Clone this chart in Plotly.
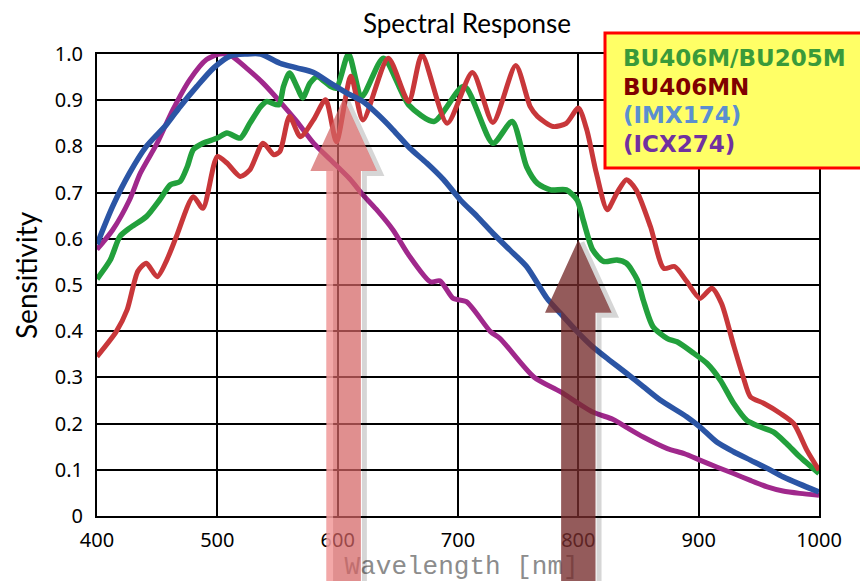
import plotly.graph_objects as go

# ---------------- data ----------------
wl_imx174 = [400, 413, 427, 441, 458, 469, 483, 497, 511, 524, 536, 552, 566, 580, 594, 608, 621, 633,
             646, 660, 674, 688, 702, 716, 729, 743, 757, 774, 785, 799, 812, 826, 840, 854, 868, 890,
             901, 915, 929, 943, 957, 970, 984, 1000]
imx174 = [0.588, 0.67, 0.742, 0.80, 0.848, 0.886, 0.93, 0.97, 0.996, 1.0, 1.0, 0.98, 0.97, 0.96, 0.937,
          0.915, 0.897, 0.87, 0.836, 0.796, 0.764, 0.728, 0.684, 0.648, 0.612, 0.576, 0.54, 0.471, 0.439,
          0.399, 0.366, 0.337, 0.309, 0.28, 0.251, 0.215, 0.193, 0.16, 0.139, 0.121, 0.103, 0.085, 0.069,
          0.052]

wl_icx274 = [400, 413, 427, 436, 450, 463, 477, 491, 502, 511, 524, 538, 552, 566, 580, 594, 610, 621,
             632, 646, 659, 677, 685, 696, 707, 727, 735, 763, 785, 812, 829, 840, 854, 874, 888, 901,
             915, 929, 943, 957, 970, 984, 1000]
icx274 = [0.577, 0.619, 0.684, 0.742, 0.807, 0.879, 0.944, 0.988, 1.0, 0.997, 0.97, 0.937, 0.897, 0.854,
          0.807, 0.771, 0.73, 0.695, 0.664, 0.619, 0.565, 0.507, 0.509, 0.471, 0.464, 0.399, 0.384,
          0.301, 0.269, 0.225, 0.209, 0.192, 0.171, 0.146, 0.135, 0.121, 0.106, 0.092, 0.077, 0.063,
          0.054, 0.049, 0.045]

wl_bu406m = [400, 411, 419, 427, 441, 452, 461, 469, 475, 480, 488, 500, 508, 519, 527, 536, 541, 551,
             555, 560, 566, 571, 577, 583, 594, 599, 609, 620, 638, 659, 680, 705, 729, 745, 757, 766,
             777, 790, 799, 804, 812, 821, 832, 840, 849, 854, 862, 874, 882, 896, 907, 918, 929, 940,
             951, 962, 973, 984, 1000]
bu406m = [0.513, 0.554, 0.605, 0.623, 0.648, 0.684, 0.717, 0.724, 0.756, 0.793, 0.807, 0.818, 0.829,
          0.818, 0.85, 0.886, 0.897, 0.89, 0.93, 0.959, 0.93, 0.905, 0.937, 0.951, 0.93, 0.926, 1.0,
          0.908, 0.991, 0.89, 0.854, 0.93, 0.807, 0.854, 0.756, 0.72, 0.706, 0.706, 0.684, 0.641,
          0.576, 0.551, 0.554, 0.547, 0.511, 0.467, 0.41, 0.384, 0.377, 0.352, 0.33, 0.294, 0.244,
          0.207, 0.193, 0.182, 0.157, 0.128, 0.092]

wl_bu406mn = [400, 416, 425, 434, 441, 450, 458, 466, 480, 488, 500, 508, 519, 527, 538, 547, 552, 560,
              569, 580, 590, 599, 611, 621, 642, 659, 670, 691, 712, 729, 748, 760, 766, 779, 790, 800,
              807, 815, 824, 832, 840, 848, 860, 871, 880, 890, 901, 911, 919, 929, 937, 943, 954, 968,
              979, 990, 1000]
bu406mn = [0.345, 0.399, 0.446, 0.53, 0.547, 0.518, 0.554, 0.605, 0.691, 0.666, 0.778, 0.764, 0.735,
           0.749, 0.807, 0.782, 0.789, 0.865, 0.821, 0.858, 0.901, 0.81, 0.952, 0.857, 0.991, 0.897,
           0.998, 0.85, 0.96, 0.852, 0.975, 0.886, 0.865, 0.843, 0.85, 0.883, 0.836, 0.742, 0.663,
           0.699, 0.728, 0.706, 0.626, 0.536, 0.54, 0.508, 0.471, 0.493, 0.46, 0.37, 0.301, 0.258,
           0.244, 0.222, 0.2, 0.142, 0.099]

legend_labels = ["BU406M/BU205M", "BU406MN", "(IMX174)", "(ICX274)"]
legend_colors = ["#3a9a3a", "#800000", "#5b8fd0", "#7030a0"]

x_ticks = [400, 500, 600, 700, 800, 900, 1000]
y_ticks = [0, 0.1, 0.2, 0.3, 0.4, 0.5, 0.6, 0.7, 0.8, 0.9, 1.0]
y_tick_labels = ["0", "0.1", "0.2", "0.3", "0.4", "0.5", "0.6", "0.7", "0.8", "0.9", "1.0"]

arrow_wavelengths = [605, 800]      # nm, arrow centre
arrow_tips = [0.905, 0.598]         # sensitivity at the arrow tip

X_MIN, X_MAX = 400, 1000
Y_MIN, Y_MAX = 0.0, 1.0

# ---------------- figure ----------------
# page body has an 8px default margin -> figure is 8px smaller and shifted
OFF = 8
W, H = 868 - OFF, 581 - OFF
ML, MT = 97 - OFF, 54 - OFF
PW, PH = 722, 462
MR = W - ML - PW
MB = H - MT - PH


def px(nm):
    return (nm - X_MIN) / (X_MAX - X_MIN)


def py(v):
    return (v - Y_MIN) / (Y_MAX - Y_MIN)


def pap_x(xpix):   # absolute page pixel -> paper x
    return (xpix - OFF - ML) / PW


def pap_y(ypix):   # absolute page pixel -> paper y
    return (MT + PH - (ypix - OFF)) / PH


fig = go.Figure()

# axis title drawn as text of an invisible point on the x axis, so the arrows sit above it
fig.add_trace(go.Scatter(
    x=[703], y=[0.0005], mode="markers+text", text=["Wavelength [nm]"],
    marker=dict(size=61, color="rgba(0,0,0,0)"),
    textfont=dict(family="Liberation Mono", size=26, color="#8c8c8c"),
    textposition="bottom center", cliponaxis=False, hoverinfo="skip", showlegend=False))

series = [
    (wl_icx274, icx274, "#a0288c", 5),
    (wl_bu406m, bu406m, "#22a03c", 5.5),
    (wl_bu406mn, bu406mn, "#c8373a", 5),
    (wl_imx174, imx174, "#2b55a5", 5.5),
]
for xs, ys, col, w in series:
    fig.add_trace(go.Scatter(x=xs, y=ys, mode="lines",
                             line=dict(color=col, width=w, shape="spline", smoothing=0.7),
                             hoverinfo="skip", showlegend=False))

shapes = []
# arrows
arrow_fill = ["rgba(212,100,100,0.72)", "rgba(118,45,45,0.78)"]
SHAFT_HALF = 14.3   # nm
HEAD_HALF = 27.7    # nm
HEAD_H = 0.158
BOTTOM = -0.16
dxs = 3.5 / PW
dys = 2.5 / PH
for c, tip, fill in zip(arrow_wavelengths, arrow_tips, arrow_fill):
    base = tip - HEAD_H
    pts = [(c - SHAFT_HALF, BOTTOM), (c - SHAFT_HALF, base), (c - HEAD_HALF, base), (c, tip),
           (c + HEAD_HALF, base), (c + SHAFT_HALF, base), (c + SHAFT_HALF, BOTTOM)]
    sh = [(c, tip), (c + HEAD_HALF, base), (c + SHAFT_HALF, base), (c + SHAFT_HALF, BOTTOM)]
    spath = "M " + " L ".join(f"{px(a) + dxs:.5f},{py(b) - dys:.5f}" for a, b in sh)
    shapes.append(dict(type="path", xref="paper", yref="paper", path=spath,
                       line=dict(color="rgba(0,0,0,0.16)", width=5), layer="above"))
    path = "M " + " L ".join(f"{px(a):.5f},{py(b):.5f}" for a, b in pts) + " Z"
    shapes.append(dict(type="path", xref="paper", yref="paper", path=path,
                       fillcolor=fill, line=dict(width=0), layer="above"))
# lighter bevel strip on the left of the pink shaft
c0, t0 = arrow_wavelengths[0], arrow_tips[0]
shapes.append(dict(type="rect", xref="paper", yref="paper",
                   x0=px(c0 - SHAFT_HALF), x1=px(c0 - SHAFT_HALF + 5.5),
                   y0=BOTTOM, y1=py(t0 - HEAD_H),
                   fillcolor="rgba(255,185,185,0.6)", line=dict(width=0), layer="above"))

# legend box
shapes.append(dict(type="rect", xref="paper", yref="paper",
                   x0=pap_x(605), x1=pap_x(900), y0=pap_y(168), y1=pap_y(33),
                   fillcolor="#ffff66", line=dict(color="#ff0000", width=3), layer="above"))

annotations = []
legend_y_px = [58.5, 86.5, 115.5, 143.5]
for lab, col, ypx in zip(legend_labels, legend_colors, legend_y_px):
    annotations.append(dict(xref="paper", yref="paper", x=pap_x(621), y=pap_y(ypx),
                            xanchor="left", yanchor="middle", showarrow=False,
                            text=f"<b>{lab}</b>",
                            font=dict(family="DejaVu Sans", size=23, color=col)))

annotations.append(dict(xref="paper", yref="paper", x=pap_x(26), y=pap_y(275),
                        xanchor="center", yanchor="middle", showarrow=False, textangle=-90,
                        text="Sensitivity", font=dict(family="Lato", size=28, color="black")))

fig.update_layout(
    width=W, height=H,
    margin=dict(l=ML, r=MR, t=MT, b=MB, pad=0),
    paper_bgcolor="white", plot_bgcolor="white",
    title=dict(text="Spectral Response", x=(467 - OFF) / W, xref="container", xanchor="center",
               y=1 - (24 - OFF) / H, yref="container", yanchor="middle",
               font=dict(family="Lato", size=26, color="black")),
    shapes=shapes, annotations=annotations,
    showlegend=False,
    xaxis=dict(range=[X_MIN, X_MAX], tickvals=x_ticks, ticktext=[str(v) for v in x_ticks],
               showgrid=True, gridcolor="black", gridwidth=2,
               showline=True, linecolor="black", linewidth=2, mirror=True,
               zeroline=False, ticks="", ticklabelstandoff=5,
               tickfont=dict(family="Noto Sans", size=20, color="black")),
    yaxis=dict(range=[Y_MIN, Y_MAX], tickvals=y_ticks, ticktext=y_tick_labels,
               showgrid=True, gridcolor="black", gridwidth=2,
               showline=True, linecolor="black", linewidth=2, mirror=True,
               zeroline=False, ticks="", ticklabelstandoff=8,
               tickfont=dict(family="Noto Sans", size=20, color="black")),
)

fig.write_html("out.html")
